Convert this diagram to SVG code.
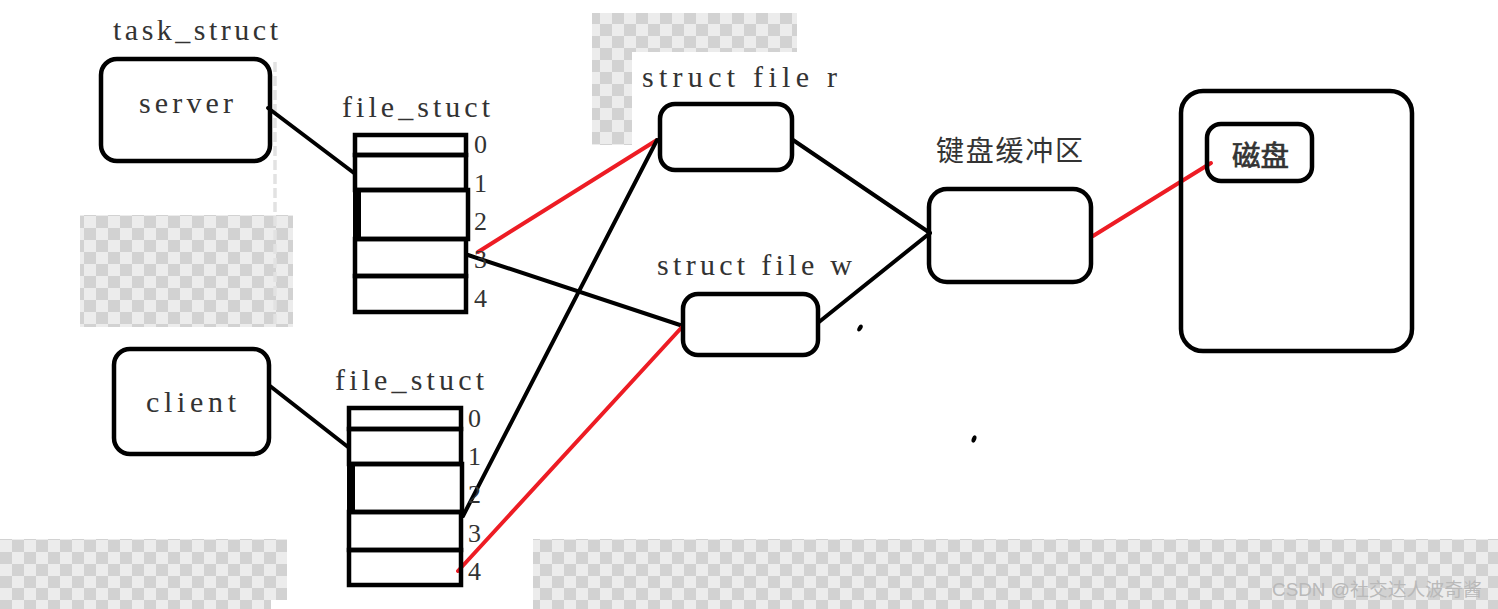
<svg xmlns="http://www.w3.org/2000/svg" width="1498" height="609" viewBox="0 0 1498 609">
<defs>
<pattern id="checker" patternUnits="userSpaceOnUse" x="0" y="0" width="24" height="24">
<rect width="24" height="24" fill="#ececec"/>
<rect x="0" y="0" width="12" height="12" fill="#d2d2d2"/>
<rect x="12" y="12" width="12" height="12" fill="#d2d2d2"/>
</pattern>
<style>
.box{fill:none;stroke:#000;stroke-width:4.5}
.cell{fill:none;stroke:#000;stroke-width:4.5}
.lbl{font-family:"Liberation Serif","Noto Sans CJK SC",serif;font-size:30px;fill:#333}
.num{font-family:"Liberation Serif",serif;font-size:26px;fill:#333}
.cjk{font-family:"Noto Sans CJK SC","Noto Sans",sans-serif;font-size:28px;fill:#333}
.blk{stroke:#000;stroke-width:4;fill:none;stroke-linecap:round}
.red{stroke:#ed1c24;stroke-width:4;fill:none;stroke-linecap:round}
</style>
</defs>
<rect width="1498" height="609" fill="#fff"/>
<!-- transparency checker areas -->
<g id="checker-areas" fill="url(#checker)">
<rect x="80" y="215" width="213" height="112"/>
<rect x="592" y="13" width="205" height="39"/>
<rect x="592" y="52" width="40" height="93"/>
<rect x="0" y="539" width="287" height="70"/>
<rect x="533" y="539" width="965" height="70"/>
</g>
<rect x="271" y="600" width="16" height="9" fill="#fff"/>
<line x1="275" y1="62" x2="275" y2="328" stroke="#e2e2e2" stroke-width="3.5" stroke-dasharray="10 4"/>

<!-- connectors -->
<g id="connectors">
<line class="blk" x1="268" y1="108" x2="354" y2="173"/>
<line class="blk" x1="270" y1="386" x2="348" y2="447"/>
<line class="red" x1="478" y1="252" x2="657" y2="140"/>
<line class="blk" x1="468" y1="255" x2="683" y2="326"/>
<line class="blk" x1="463" y1="516" x2="657" y2="140"/>
<line class="red" x1="458" y1="571" x2="683" y2="326"/>
<line class="blk" x1="793" y1="140" x2="930" y2="233"/>
<line class="blk" x1="819" y1="322" x2="930" y2="233"/>
<line class="red" x1="1093" y1="236" x2="1211" y2="163"/>
</g>

<g id="task_struct_label">
<text class="lbl" x="113" y="40" textLength="165" lengthAdjust="spacing">task_struct</text>
</g>

<g id="server">
<rect class="box" x="101" y="59" width="169" height="102" rx="16"/>
<text class="lbl" x="139" y="113" textLength="94" lengthAdjust="spacing">server</text>
</g>

<g id="client">
<rect class="box" x="114" y="349" width="155" height="105" rx="16"/>
<text class="lbl" x="146" y="412" textLength="90" lengthAdjust="spacing">client</text>
</g>

<g id="server_file_struct">
<text class="lbl" x="342" y="117" textLength="148" lengthAdjust="spacing">file_stuct</text>
<rect class="cell" x="355" y="135" width="111" height="20"/>
<rect class="cell" x="355" y="155" width="111" height="35"/>
<rect class="cell" x="358" y="190" width="110" height="49"/>
<line x1="357" y1="190" x2="357" y2="239" stroke="#000" stroke-width="8"/>
<rect class="cell" x="355" y="239" width="111" height="37"/>
<rect class="cell" x="355" y="276" width="111" height="36"/>
<text class="num" x="474" y="153">0</text>
<text class="num" x="474" y="192">1</text>
<text class="num" x="474" y="230">2</text>
<text class="num" x="474" y="268">3</text>
<text class="num" x="474" y="307">4</text>
</g>

<g id="client_file_struct">
<text class="lbl" x="335" y="390" textLength="149" lengthAdjust="spacing">file_stuct</text>
<rect class="cell" x="349" y="408" width="112" height="21"/>
<rect class="cell" x="349" y="429" width="112" height="35"/>
<rect class="cell" x="352" y="464" width="110" height="48"/>
<line x1="351" y1="464" x2="351" y2="512" stroke="#000" stroke-width="8"/>
<rect class="cell" x="349" y="512" width="112" height="38"/>
<rect class="cell" x="349" y="550" width="112" height="35"/>
<text class="num" x="468" y="427">0</text>
<text class="num" x="468" y="465">1</text>
<text class="num" x="468" y="503">2</text>
<text class="num" x="468" y="542">3</text>
<text class="num" x="468" y="580">4</text>
</g>

<g id="struct_file_r">
<text class="lbl" x="642" y="87" textLength="195" lengthAdjust="spacing">struct file r</text>
<rect class="box" x="660" y="104" width="132" height="66" rx="15"/>
</g>

<g id="struct_file_w">
<text class="lbl" x="657" y="275" textLength="195" lengthAdjust="spacing">struct file w</text>
<rect class="box" x="683" y="294" width="135" height="61" rx="15"/>
</g>

<g id="keyboard_buffer">
<text class="cjk" x="936" y="161" textLength="147" lengthAdjust="spacing">键盘缓冲区</text>
<rect class="box" x="929" y="189" width="162" height="93" rx="18"/>
</g>

<g id="disk_container">
<rect class="box" x="1181" y="91" width="231" height="260" rx="22"/>
</g>

<g id="disk">
<rect class="box" x="1207" y="124" width="105" height="57" rx="14"/>
<text class="cjk" x="1232" y="166" stroke="#333" stroke-width="0.7" textLength="57" lengthAdjust="spacingAndGlyphs">磁盘</text>
</g>

<g id="dots" fill="#000">
<ellipse cx="860" cy="328" rx="2.2" ry="3.8" transform="rotate(30 860 328)"/>
<ellipse cx="974" cy="439" rx="2.2" ry="3.8" transform="rotate(20 974 439)"/>
</g>

<text x="1272" y="596" font-family="'Liberation Sans','Noto Sans CJK SC',sans-serif" font-size="18" fill="#b9b9b9" textLength="210" lengthAdjust="spacingAndGlyphs">CSDN @社交达人波奇酱</text>
</svg>
